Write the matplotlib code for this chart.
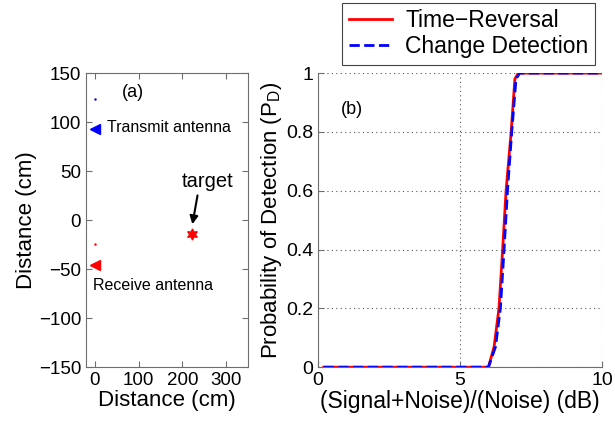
import matplotlib
matplotlib.use("Agg")
import matplotlib.pyplot as plt

# panel (a): antenna / target layout, in cm
tx_x, tx_y = [0], [93]
rx_x, rx_y = [0], [-46]
tx_dot = (0, 124)
rx_dot = (0, -24)
target_x, target_y = [223], [-14]

# panel (b): probability of detection vs SNR (dB)
snr_tr = [0.2, 6.0, 6.2, 6.37, 6.5, 6.62, 6.8, 6.93, 7.05, 10]
pd_tr = [0, 0, 0.07, 0.2, 0.4, 0.6, 0.8, 0.98, 1, 1]
snr_cd = [0.2, 6.0, 6.25, 6.42, 6.55, 6.67, 6.82, 6.97, 7.1, 10]
pd_cd = [0, 0, 0.07, 0.2, 0.4, 0.6, 0.8, 0.98, 1, 1]

plt.rcParams["font.family"] = ["Liberation Sans", "DejaVu Sans"]
plt.rcParams["mathtext.fontset"] = "custom"
plt.rcParams["mathtext.rm"] = "Liberation Sans"

SPINE = "#6e6e6e"

fig = plt.figure(figsize=(6.15, 4.25), dpi=100)
ax1 = fig.add_axes([0.140, 0.136, 0.263, 0.692])
ax2 = fig.add_axes([0.517, 0.136, 0.462, 0.692])

# ---- (a)
ax1.plot(tx_x, tx_y, "<", color="blue", markersize=7)
ax1.plot(rx_x, rx_y, "<", color="red", markersize=7)
ax1.plot(*tx_dot, ".", color="blue", markersize=1.5)
ax1.plot(*rx_dot, ".", color="red", markersize=1.5)
ax1.plot(target_x, target_y, marker=(6, 1, 0), color="red", markersize=8, linestyle="none")
ax1.annotate("", xy=(222, -7), xytext=(236, 28),
             arrowprops=dict(arrowstyle="-|>", color="black", lw=1.5, mutation_scale=12))
ax1.text(258, 39, "target", fontsize=14.5, ha="center", va="center")
ax1.text(27, 94, "Transmit antenna", fontsize=11.5, ha="left", va="center")
ax1.text(-4, -67, "Receive antenna", fontsize=11.5, ha="left", va="center")
ax1.text(86, 130, "(a)", fontsize=13, ha="center", va="center")
ax1.set_xlim(-20, 350)
ax1.set_ylim(-150, 150)
ax1.set_xticks([0, 100, 200, 300])
ax1.set_yticks(range(-150, 151, 50))
ax1.set_xlabel("Distance (cm)", fontsize=16, labelpad=1)
ax1.set_ylabel("Distance (cm)", fontsize=16, labelpad=1)
ax1.tick_params(direction="in", top=True, right=True, labelsize=13.5, length=4, color=SPINE)
for s in ax1.spines.values():
    s.set_color(SPINE)

# ---- (b)
ax2.plot(snr_tr, pd_tr, "-", color="red", lw=2, label="Time\u2212Reversal")
ax2.plot(snr_cd, pd_cd, "--", color="blue", lw=2, label="Change Detection")
ax2.text(1.2, 0.875, "(b)", fontsize=13, ha="center", va="center")
ax2.set_xlim(0, 10)
ax2.set_ylim(0, 1)
ax2.set_xticks([0, 5, 10])
ax2.set_yticks([0, 0.2, 0.4, 0.6, 0.8, 1])
ax2.set_yticklabels(["0", "0.2", "0.4", "0.6", "0.8", "1"])
ax2.grid(True, linestyle=(0, (1, 3)), color="#555555", lw=0.8)
ax2.set_xlabel("(Signal+Noise)/(Noise) (dB)", fontsize=16.5, labelpad=1)
ax2.set_ylabel("Probability of Detection (P$_{\\rm D}$)", fontsize=16, labelpad=1)
ax2.tick_params(direction="in", labelsize=14, length=4, color=SPINE)
ax2.spines["top"].set_visible(False)
ax2.spines["right"].set_visible(False)
ax2.spines["left"].set_color(SPINE)
ax2.spines["bottom"].set_color(SPINE)

leg = ax2.legend(loc="center", bbox_to_anchor=(0.762, 0.921), bbox_transform=fig.transFigure,
                 fontsize=16.5, fancybox=False, framealpha=1, edgecolor="#444444",
                 handlelength=1.9, handletextpad=0.55, borderpad=0.3, labelspacing=0.1)
leg.get_frame().set_linewidth(0.8)

fig.savefig("out.png", dpi=100)
